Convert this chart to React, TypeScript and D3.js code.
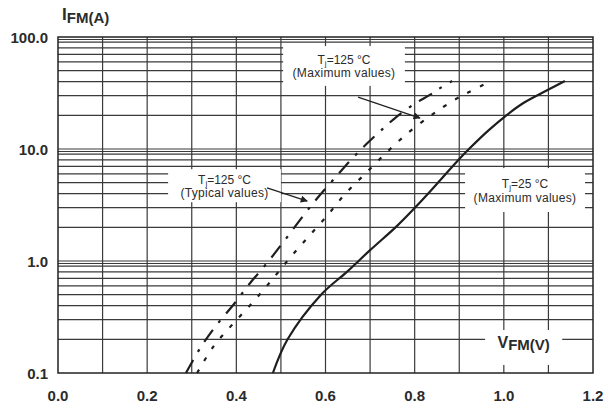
import React from "react";
import * as d3 from "d3";

const WIDTH = 608;
const HEIGHT = 411;
const LEFT = 58;
const RIGHT = 593;
const TOP = 37;
const BOTTOM = 373;

// axis ticks
const xTicks = [0, 0.2, 0.4, 0.6, 0.8, 1.0, 1.2];
const xTickLabels = ["0.0", "0.2", "0.4", "0.6", "0.8", "1.0", "1.2"];
const yTicks = [0.1, 1, 10, 100];
const yTickLabels = ["0.1", "1.0", "10.0", "100.0"];
const yMinorSteps = [2, 3, 4, 5, 6, 7, 8, 9, 9.5];

// Tj=125 °C typical values (dash-dot)
const typicalV = [0.287, 0.319, 0.352, 0.393, 0.431, 0.469, 0.509, 0.57, 0.626, 0.662, 0.693, 0.729, 0.756, 0.801, 0.834, 0.857, 0.884];
const typicalI = [0.1, 0.167, 0.257, 0.405, 0.636, 0.96, 1.54, 3.2, 5.8, 8.4, 11.2, 15.2, 18.9, 25.5, 30.4, 35, 40.5];

// Tj=125 °C maximum values (dotted)
const max125V = [0.312, 0.348, 0.39, 0.435, 0.476, 0.516, 0.559, 0.603, 0.644, 0.693, 0.738, 0.785, 0.834, 0.864, 0.895, 0.92, 0.955];
const max125I = [0.1, 0.171, 0.268, 0.42, 0.65, 1.02, 1.6, 2.52, 3.97, 6.23, 9.4, 13.9, 19.6, 23.7, 28.3, 32, 37.5];

// Tj=25 °C maximum values (solid)
const max25V = [0.482, 0.515, 0.59, 0.648, 0.7, 0.76, 0.801, 0.834, 0.897, 0.924, 0.965, 1.003, 1.043, 1.097, 1.137];
const max25I = [0.1, 0.2, 0.5, 0.8, 1.25, 2.05, 3.0, 4.15, 7.9, 10.2, 14.6, 19.6, 25.6, 33.4, 40.5];

// white label boxes: [v0, v1, iTop, iBottom]
const boxMax125 = [0.505, 0.778, 83, 36.6];
const boxTypical = [0.247, 0.5, 6.6, 3.35];
const boxMax25 = [0.913, 1.182, 6.75, 2.74];
const boxVfm = [0.958, 1.131, 0.242, 0.118];

// arrows: [v0, i0, v1, i1]
const arrowMax125 = [0.673, 29.1, 0.812, 18.9];
const arrowTypical = [0.469, 4.49, 0.559, 3.43];

const x = d3.scaleLinear().domain([0, 1.2]).range([LEFT, RIGHT]);
const y = d3.scaleLog().domain([0.1, 100]).range([BOTTOM, TOP]);

const line = d3
  .line<[number, number]>()
  .x((d) => x(d[0]))
  .y((d) => y(d[1]))
  .curve(d3.curveCatmullRom.alpha(0.5));

const zip = (vs: number[], is: number[]) => vs.map((v, i) => [v, is[i]] as [number, number]);

const TEXT = "#2b2b2b";
const GRID = "#3a3a3a";
const FONT = "'Liberation Sans', Arial, sans-serif";

const Box = ({ b }: { b: number[] }) => (
  <rect x={x(b[0])} y={y(b[2])} width={x(b[1]) - x(b[0])} height={y(b[3]) - y(b[2])} fill="#fff" />
);

const Label = ({ b, t, note }: { b: number[]; t: string; note: string }) => {
  const cx = (x(b[0]) + x(b[1])) / 2;
  const cy = (y(b[2]) + y(b[3])) / 2;
  return (
    <g fontFamily={FONT} fill={TEXT} textAnchor="middle">
      <text x={cx} y={cy - 2} fontSize={12}>
        T<tspan fontSize={8} dy={2}>j</tspan>
        <tspan dy={-2}>{t}</tspan>
      </text>
      <text x={cx} y={cy + 11.5} fontSize={12} letterSpacing={0.3}>
        {note}
      </text>
    </g>
  );
};

export default function App() {
  const yGrid: number[] = [];
  [0.1, 1, 10].forEach((d) => yMinorSteps.forEach((k) => yGrid.push(d * k)));
  const xGrid = d3.range(1, 12).map((i) => i / 10);

  return (
    <svg width={WIDTH} height={HEIGHT} style={{ position: "absolute", left: 0, top: 0, background: "#fff" }}>
      <defs>
        <marker id="ah" viewBox="0 0 10 10" refX="9" refY="5" markerWidth="7" markerHeight="5.5" orient="auto">
          <path d="M0,0L10,5L0,10z" fill="#222" />
        </marker>
      </defs>
      <g stroke={GRID} strokeWidth={1.2}>
        {yGrid.concat([1, 10]).map((v, i) => (
          <line key={"h" + i} x1={LEFT} x2={RIGHT} y1={y(v)} y2={y(v)} />
        ))}
        {xGrid.map((v, i) => (
          <line key={"v" + i} x1={x(v)} x2={x(v)} y1={TOP} y2={BOTTOM} />
        ))}
      </g>
      <Box b={boxMax125} />
      <Box b={boxTypical} />
      <Box b={boxMax25} />
      <Box b={boxVfm} />
      <rect x={LEFT} y={TOP} width={RIGHT - LEFT} height={BOTTOM - TOP} fill="none" stroke="#222" strokeWidth={1.5} />

      <g fill="none" stroke="#1e1e1e" strokeWidth={2.2}>
        <path d={line(zip(typicalV, typicalI)) || ""} strokeDasharray="15 9 3 9" />
        <path d={line(zip(max125V, max125I)) || ""} strokeDasharray="4 10" />
        <path d={line(zip(max25V, max25I)) || ""} />
      </g>

      <g stroke="#222" strokeWidth={1.3} fill="none">
        {[arrowMax125, arrowTypical].map((a, i) => (
          <line key={i} x1={x(a[0])} y1={y(a[1])} x2={x(a[2])} y2={y(a[3])} markerEnd="url(#ah)" />
        ))}
      </g>

      <Label b={boxMax125} t="=125 °C" note="(Maximum values)" />
      <Label b={boxTypical} t="=125 °C" note="(Typical values)" />
      <Label b={boxMax25} t="=25 °C" note="(Maximum values)" />

      <g fontFamily={FONT} fontWeight="bold" fontSize={15} fill={TEXT}>
        {xTicks.map((v, i) => (
          <text key={"xt" + i} x={x(v)} y={401} textAnchor="middle">
            {xTickLabels[i]}
          </text>
        ))}
        {yTicks.map((v, i) => (
          <text key={"yt" + i} x={48} y={y(v) + 5.5} textAnchor="end">
            {yTickLabels[i]}
          </text>
        ))}
        <text x={62} y={20}>
          <tspan fontSize={17}>I</tspan>
          <tspan dy={3} fontSize={15}>FM(A)</tspan>
        </text>
        <text x={(x(boxVfm[0]) + x(boxVfm[1])) / 2} y={348} textAnchor="middle">
          <tspan fontSize={16}>V</tspan>
          <tspan dy={2} fontSize={15}>FM(V)</tspan>
        </text>
      </g>
    </svg>
  );
}
